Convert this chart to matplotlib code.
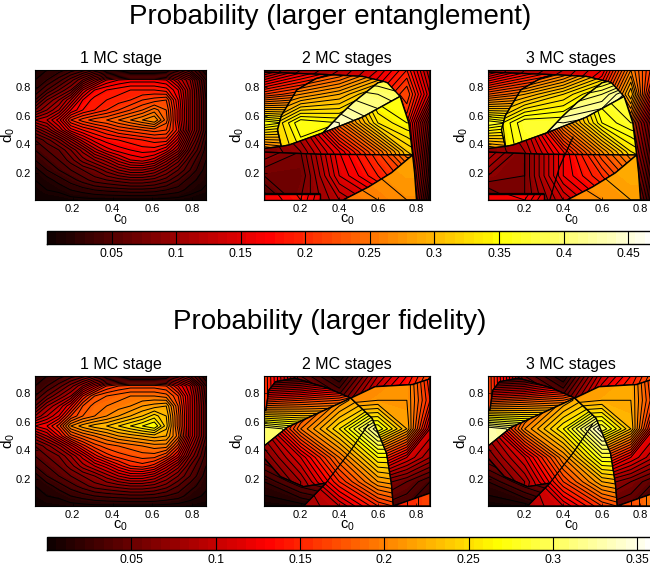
import matplotlib

matplotlib.use("Agg")
import matplotlib.pyplot as plt
import numpy as np
from matplotlib.patches import Polygon

plt.rcParams["font.family"] = ["Liberation Sans", "DejaVu Sans"]
plt.rcParams["mathtext.default"] = "regular"

c0 = [0.01, 0.07, 0.13, 0.19, 0.25, 0.31, 0.37, 0.43, 0.49, 0.55, 0.61, 0.67, 0.73, 0.79, 0.87]
d0 = [0.92, 0.85, 0.78, 0.71, 0.64, 0.57, 0.50, 0.43, 0.36, 0.29, 0.22, 0.15, 0.08, 0.01]

# one stage looks the same in both rows, only the colour scale differs
stage_1 = [
    [.01, .02, .025, .035, .045, .06, .07, .075, .08, .08, .08, .08, .07, .05, .01],
    [.02, .03, .045, .065, .09, .12, .15, .16, .165, .165, .165, .16, .13, .10, .03],
    [.03, .05, .07, .09, .14, .17, .18, .185, .19, .19, .19, .185, .16, .11, .035],
    [.05, .08, .10, .13, .17, .185, .19, .195, .20, .21, .215, .22, .17, .11, .04],
    [.08, .10, .12, .16, .18, .19, .20, .21, .22, .23, .245, .23, .175, .11, .04],
    [.12, .13, .155, .20, .215, .225, .23, .24, .25, .26, .27, .235, .175, .11, .04],
    [.08, .10, .13, .165, .18, .19, .20, .21, .215, .22, .225, .22, .185, .11, .04],
    [.05, .065, .085, .115, .145, .165, .175, .18, .185, .19, .195, .195, .155, .09, .03],
    [.04, .05, .06, .08, .105, .135, .155, .165, .17, .175, .175, .16, .125, .07, .025],
    [.03, .04, .05, .065, .085, .10, .115, .135, .15, .155, .145, .115, .085, .05, .02],
    [.015, .03, .04, .05, .06, .07, .085, .10, .11, .11, .10, .08, .06, .04, .015],
    [.01, .015, .025, .035, .045, .055, .06, .065, .07, .07, .065, .055, .04, .025, .012],
    [.005, .01, .012, .02, .025, .03, .033, .035, .037, .037, .035, .03, .025, .015, .008],
    [.002, .003, .004, .005, .006, .007, .007, .007, .007, .007, .007, .006, .005, .004, .003],
]

# the 2 and 3 stage surfaces jump between regions, each region gets a coarse grid of its own
region_c = [0.01, 0.2, 0.4, 0.6, 0.75, 0.87]
region_d = [0.92, 0.75, 0.55, 0.35, 0.18, 0.01]

# region outlines for the top row
ent_outer_c = [.01, .87, .87, .80, .79, .78, .76, .72, .65, .52, .35, .2, .01]
ent_outer_d = [.92, .92, .01, .01, .2, .325, .55, .72, .83, .875, .887, .895, .905]
ent_left_c = [.01, .2, .35, .28, .18, .10, .08, .10, .01]
ent_left_d = [.905, .895, .887, .86, .78, .60, .50, .385, .37]
ent_inner_c = [.35, .52, .63, .60, .47, .40, .315, .14, .10, .08, .10, .18, .28]
ent_inner_d = [.887, .875, .84, .83, .69, .60, .48, .395, .385, .50, .60, .78, .86]
ent_pale_c = [.63, .65, .715, .52, .315, .40, .47, .60]
ent_pale_d = [.84, .83, .735, .59, .48, .60, .69, .83]
ent_mid_c = [.01, .10, .14, .315, .52, .715, .76, .78, .30, .01]
ent_mid_d = [.37, .385, .395, .48, .59, .735, .55, .325, .33, .345]
ent_lower_c = [.01, .30, .78, .67, .55, .42, .30, .30, .01]
ent_lower_d = [.345, .33, .325, .20, .10, .01, .01, .055, .055]
ent_right_c = [.78, .79, .80, .42, .55, .67]
ent_right_d = [.325, .2, .01, .01, .10, .20]
ent_base_c = [.01, .30, .30, .01]
ent_base_d = [.055, .055, .01, .01]
ent3_thin_c = [.33, .38, .45]
ent3_thin_d = [.01, .24, .45]

# region outlines for the bottom row
fid_outer_c = [.01, .87, .87, .78, .585, .46, .34, .17, .07, .035, .02, .01]
fid_outer_d = [.92, .92, .90, .86, .845, .765, .835, .905, .88, .82, .68, .68]
fid_left_c = [.01, .02, .035, .07, .17, .34, .46, .13, .02, .01]
fid_left_d = [.68, .68, .82, .88, .905, .835, .765, .56, .44, .43]
fid_mid_c = [.01, .02, .13, .46, .57, .645, .67, .68, .215, .33, .215, .095, .02, .01]
fid_mid_d = [.43, .44, .56, .765, .625, .38, .17, .01, .01, .17, .145, .215, .33, .34]
fid_dark_c = [.01, .02, .095, .215, .33, .215, .01]
fid_dark_d = [.34, .33, .215, .145, .17, .01, .01]
fid_right_c = [.46, .585, .78, .87, .87, .68, .67, .645, .57]
fid_right_d = [.765, .845, .86, .90, .10, .01, .17, .38, .625]
fid_base_c = [.68, .87, .87]
fid_base_d = [.01, .10, .01]
fid_thin_c = [.33, .45, .55]
fid_thin_d = [.17, .38, .58]

ent2_outer = [
    [.08, .10, .12, .15, .19, .12],
    [.10, .12, .14, .18, .22, .14],
    [.10, .10, .10, .15, .19, .07],
    [.10, .10, .10, .15, .18, .05],
    [.10, .10, .10, .15, .16, .04],
    [.10, .10, .10, .15, .15, .02],
]
ent2_left = [
    [.11, .15, .18, .20, .20, .20],
    [.21, .23, .24, .24, .24, .24],
    [.36, .34, .30, .30, .30, .30],
    [.24, .26, .30, .30, .30, .30],
    [.20, .25, .30, .30, .30, .30],
    [.20, .25, .30, .30, .30, .30],
]
ent2_inner = [
    [.20, .19, .22, .26, .30, .30],
    [.26, .27, .29, .33, .35, .35],
    [.30, .36, .35, .36, .36, .36],
    [.30, .34, .35, .36, .36, .36],
    [.30, .34, .35, .36, .36, .36],
    [.30, .34, .35, .36, .36, .36],
]
ent2_pale = [
    [.38, .38, .37, .37, .36, .36],
    [.42, .42, .41, .40, .39, .38],
    [.46, .45, .44, .42, .41, .40],
    [.46, .46, .44, .42, .41, .40],
    [.46, .46, .44, .42, .41, .40],
    [.46, .46, .44, .42, .41, .40],
]
ent2_mid = [
    [.10, .20, .30, .38, .38, .38],
    [.10, .18, .28, .36, .36, .36],
    [.09, .13, .24, .33, .35, .35],
    [.08, .10, .16, .24, .31, .33],
    [.08, .09, .14, .20, .28, .30],
    [.08, .09, .14, .20, .28, .30],
]
ent2_lower = [
    [.10, .10, .20, .25, .30, .30],
    [.10, .10, .20, .25, .30, .30],
    [.10, .09, .18, .23, .28, .28],
    [.10, .08, .16, .21, .26, .26],
    [.07, .07, .15, .19, .22, .22],
    [.04, .08, .12, .15, .20, .20],
]
ent2_right = [
    [.28, .28, .28, .28, .28, .28],
    [.28, .28, .28, .28, .28, .28],
    [.28, .28, .28, .28, .28, .28],
    [.28, .28, .28, .28, .28, .28],
    [.26, .26, .26, .27, .28, .28],
    [.25, .25, .25, .26, .27, .27],
]
ent2_base = [
    [.16, .18, .12, .12, .12, .12],
    [.16, .18, .12, .12, .12, .12],
    [.16, .18, .12, .12, .12, .12],
    [.16, .18, .12, .12, .12, .12],
    [.17, .19, .13, .12, .12, .12],
    [.16, .18, .12, .12, .12, .12],
]

ent3_outer = [
    [.09, .11, .13, .16, .26, .20],
    [.10, .13, .15, .20, .30, .16],
    [.10, .10, .10, .16, .24, .09],
    [.10, .10, .10, .15, .22, .07],
    [.10, .10, .10, .15, .20, .05],
    [.10, .10, .10, .15, .18, .03],
]
ent3_left = [
    [.12, .16, .19, .21, .21, .21],
    [.23, .25, .26, .26, .26, .26],
    [.37, .35, .32, .32, .32, .32],
    [.26, .28, .32, .32, .32, .32],
    [.22, .27, .32, .32, .32, .32],
    [.22, .27, .32, .32, .32, .32],
]
ent3_inner = [
    [.21, .20, .24, .29, .33, .33],
    [.28, .29, .32, .36, .37, .37],
    [.32, .37, .37, .38, .38, .38],
    [.32, .36, .37, .38, .38, .38],
    [.32, .36, .37, .38, .38, .38],
    [.32, .36, .37, .38, .38, .38],
]
ent3_pale = [
    [.34, .32, .32, .34, .36, .36],
    [.38, .37, .38, .40, .44, .44],
    [.44, .44, .43, .44, .44, .44],
    [.45, .45, .44, .44, .44, .44],
    [.45, .45, .44, .44, .44, .44],
    [.45, .45, .44, .44, .44, .44],
]
ent3_mid = [
    [.10, .20, .31, .39, .39, .39],
    [.10, .18, .29, .37, .38, .38],
    [.09, .13, .26, .35, .37, .37],
    [.09, .11, .18, .27, .33, .35],
    [.08, .09, .15, .22, .29, .31],
    [.08, .09, .15, .22, .29, .31],
]
ent3_lower = [
    [.12, .10, .20, .26, .31, .31],
    [.12, .10, .20, .26, .31, .31],
    [.12, .09, .18, .25, .29, .29],
    [.12, .08, .16, .23, .27, .27],
    [.09, .08, .16, .20, .24, .24],
    [.05, .08, .13, .17, .21, .21],
]
ent3_right = [
    [.29, .29, .29, .29, .29, .29],
    [.29, .29, .29, .29, .29, .29],
    [.29, .29, .29, .29, .29, .29],
    [.29, .29, .29, .29, .29, .29],
    [.27, .27, .27, .28, .29, .29],
    [.26, .26, .26, .27, .28, .28],
]
ent3_base = [
    [.16, .17, .11, .11, .11, .11],
    [.16, .17, .11, .11, .11, .11],
    [.16, .17, .11, .11, .11, .11],
    [.16, .17, .11, .11, .11, .11],
    [.18, .20, .13, .11, .11, .11],
    [.16, .17, .11, .11, .11, .11],
]

fid2_outer = [
    [.16, .05, .01, .09, .13, .17],
    [.16, .06, .05, .12, .15, .19],
    [.16, .08, .08, .14, .16, .20],
    [.16, .08, .08, .14, .16, .20],
    [.16, .08, .08, .14, .16, .20],
    [.16, .08, .08, .14, .16, .20],
]
fid2_left = [
    [.02, .03, .06, .12, .15, .15],
    [.15, .16, .17, .20, .20, .20],
    [.31, .29, .28, .28, .28, .28],
    [.31, .30, .30, .30, .30, .30],
    [.30, .30, .30, .30, .30, .30],
    [.30, .30, .30, .30, .30, .30],
]
fid2_mid = [
    [.10, .15, .22, .24, .24, .24],
    [.12, .14, .20, .24, .24, .24],
    [.09, .19, .25, .33, .33, .33],
    [.06, .11, .19, .26, .26, .26],
    [.04, .08, .15, .21, .22, .22],
    [.02, .08, .10, .15, .17, .17],
]
fid2_dark = [
    [.07, .08, .10, .10, .10, .10],
    [.07, .08, .10, .10, .10, .10],
    [.07, .08, .10, .10, .10, .10],
    [.06, .08, .10, .10, .10, .10],
    [.02, .05, .07, .07, .07, .07],
    [.002, .005, .02, .02, .02, .02],
]
fid2_right = [
    [.20, .20, .20, .20, .21, .14],
    [.20, .20, .20, .21, .21, .15],
    [.28, .28, .28, .28, .22, .11],
    [.18, .18, .18, .16, .11, .08],
    [.06, .06, .06, .07, .05, .03],
    [.04, .04, .04, .04, .03, .02],
]
fid2_base = [
    [.12, .12, .12, .13, .15, .17],
    [.12, .12, .12, .13, .15, .17],
    [.12, .12, .12, .13, .15, .17],
    [.12, .12, .12, .13, .15, .17],
    [.12, .12, .12, .13, .15, .17],
    [.12, .12, .12, .13, .15, .17],
]

fid3_outer = [
    [.17, .05, .01, .10, .14, .18],
    [.17, .06, .05, .13, .16, .20],
    [.17, .08, .08, .15, .17, .21],
    [.17, .08, .08, .15, .17, .21],
    [.17, .08, .08, .15, .17, .21],
    [.17, .08, .08, .15, .17, .21],
]
fid3_left = [
    [.02, .03, .07, .13, .16, .16],
    [.16, .17, .18, .21, .21, .21],
    [.33, .31, .30, .30, .30, .30],
    [.33, .32, .32, .32, .32, .32],
    [.33, .32, .32, .32, .32, .32],
    [.33, .32, .32, .32, .32, .32],
]
fid3_mid = [
    [.10, .16, .23, .25, .25, .25],
    [.12, .15, .21, .25, .25, .25],
    [.09, .20, .26, .35, .35, .35],
    [.06, .11, .20, .28, .28, .28],
    [.04, .08, .16, .22, .23, .23],
    [.02, .09, .11, .16, .18, .18],
]
fid3_dark = [
    [.07, .08, .10, .10, .10, .10],
    [.07, .08, .10, .10, .10, .10],
    [.07, .08, .10, .10, .10, .10],
    [.06, .08, .10, .10, .10, .10],
    [.02, .05, .07, .07, .07, .07],
    [.002, .005, .03, .03, .03, .03],
]
fid3_right = [
    [.21, .21, .21, .21, .22, .15],
    [.21, .21, .21, .22, .22, .16],
    [.29, .29, .29, .29, .23, .12],
    [.19, .19, .19, .17, .12, .09],
    [.07, .07, .07, .08, .06, .04],
    [.05, .05, .05, .05, .04, .03],
]
fid3_base = [
    [.14, .14, .14, .15, .17, .20],
    [.14, .14, .14, .15, .17, .20],
    [.14, .14, .14, .15, .17, .20],
    [.14, .14, .14, .15, .17, .20],
    [.14, .14, .14, .15, .17, .20],
    [.14, .14, .14, .15, .17, .20],
]

ent_outlines = [
    (ent_outer_c, ent_outer_d), (ent_left_c, ent_left_d), (ent_inner_c, ent_inner_d),
    (ent_pale_c, ent_pale_d), (ent_mid_c, ent_mid_d), (ent_lower_c, ent_lower_d),
    (ent_right_c, ent_right_d), (ent_base_c, ent_base_d),
]
fid_outlines = [
    (fid_outer_c, fid_outer_d), (fid_left_c, fid_left_d), (fid_mid_c, fid_mid_d),
    (fid_dark_c, fid_dark_d), (fid_right_c, fid_right_d), (fid_base_c, fid_base_d),
]
ent2_regions = [ent2_outer, ent2_left, ent2_inner, ent2_pale, ent2_mid, ent2_lower, ent2_right, ent2_base]
ent3_regions = [ent3_outer, ent3_left, ent3_inner, ent3_pale, ent3_mid, ent3_lower, ent3_right, ent3_base]
fid2_regions = [fid2_outer, fid2_left, fid2_mid, fid2_dark, fid2_right, fid2_base]
fid3_regions = [fid3_outer, fid3_left, fid3_mid, fid3_dark, fid3_right, fid3_base]

panel_titles = ["1 MC stage", "2 MC stages", "3 MC stages"]
panel_ticks = [0.2, 0.4, 0.6, 0.8]
ent_bar_ticks = [0.05, 0.1, 0.15, 0.2, 0.25, 0.3, 0.35, 0.4, 0.45]
fid_bar_ticks = [0.05, 0.1, 0.15, 0.2, 0.25, 0.3, 0.35]
ENT_MAX = 0.47
FID_MAX = 0.36
LINE_STEP = 0.01

WIDTH = 650
HEIGHT = 572


def px_axes(fig, left, top, right, bottom):
    return fig.add_axes(
        [left / WIDTH, 1 - bottom / HEIGHT, (right - left) / WIDTH, (bottom - top) / HEIGHT]
    )


def draw_surface(ax, xs, ys, values, vmax, outline=None):
    fill_levels = np.linspace(0, vmax, 65)
    line_levels = np.arange(LINE_STEP, 0.47, LINE_STEP)
    surf = ax.contourf(xs, ys, values, levels=fill_levels, cmap="hot", vmin=0, vmax=vmax)
    lines = ax.contour(xs, ys, values, levels=line_levels, colors="black", linewidths=0.7)
    if outline is not None:
        clip = Polygon(np.column_stack(outline), transform=ax.transData)
        surf.set_clip_path(clip)
        lines.set_clip_path(clip)
        ax.fill(*outline, color="none", edgecolor="black", linewidth=1.0)
    return surf


def style_panel(ax, title):
    ax.set_xlim(0.01, 0.87)
    ax.set_ylim(0.01, 0.92)
    ax.set_xticks(panel_ticks)
    ax.set_yticks(panel_ticks)
    ax.set_xticklabels(["0.2", "0.4", "0.6", "0.8"])
    ax.set_yticklabels(["0.2", "0.4", "0.6", "0.8"])
    ax.tick_params(direction="in", length=2, width=0.5, labelsize=8, pad=3)
    ax.set_title(title, fontsize=11.5, pad=5)
    ax.set_xlabel("$c_0$", fontsize=10.5, labelpad=-1)
    ax.set_ylabel("$d_0$", fontsize=11, labelpad=-1)


def draw_bar(fig, box, surf, ticks):
    cax = px_axes(fig, *box)
    bar = fig.colorbar(surf, cax=cax, orientation="horizontal", ticks=ticks)
    bar.ax.set_xticklabels([f"{t:g}" for t in ticks])
    bar.ax.tick_params(
        direction="in", length=(box[3] - box[1]) * 0.72, width=0.8, color="black",
        labelsize=8.8, pad=3,
    )
    bar.outline.set_linewidth(1)


fig = plt.figure(figsize=(WIDTH / 100, HEIGHT / 100), dpi=100)
fig.patch.set_facecolor("white")

columns = [(35, 206), (264, 430), (488, 654)]

ax = px_axes(fig, 35, 70, 206, 200)
surf = draw_surface(ax, c0, d0, stage_1, ENT_MAX)
style_panel(ax, panel_titles[0])
for i, regions in enumerate([ent2_regions, ent3_regions]):
    ax = px_axes(fig, columns[i + 1][0], 70, columns[i + 1][1], 200)
    ax.set_facecolor("black")
    for values, outline in zip(regions, ent_outlines):
        draw_surface(ax, region_c, region_d, values, ENT_MAX, outline)
    if i == 1:
        ax.plot(ent3_thin_c, ent3_thin_d, color="black", linewidth=0.9)
    style_panel(ax, panel_titles[i + 1])
draw_bar(fig, (47, 231, 654, 244), surf, ent_bar_ticks)

ax = px_axes(fig, 35, 376, 206, 506)
surf = draw_surface(ax, c0, d0, stage_1, FID_MAX)
style_panel(ax, panel_titles[0])
for i, regions in enumerate([fid2_regions, fid3_regions]):
    ax = px_axes(fig, columns[i + 1][0], 376, columns[i + 1][1], 506)
    ax.set_facecolor("black")
    for values, outline in zip(regions, fid_outlines):
        draw_surface(ax, region_c, region_d, values, FID_MAX, outline)
    ax.plot(fid_thin_c, fid_thin_d, color="black", linewidth=0.9)
    style_panel(ax, panel_titles[i + 1])
draw_bar(fig, (47, 537, 654, 550), surf, fid_bar_ticks)

fig.text(330 / WIDTH, 1 - 17 / HEIGHT, "Probability (larger entanglement)", fontsize=20,
         ha="center", va="center")
fig.text(330 / WIDTH, 1 - 322 / HEIGHT, "Probability (larger fidelity)", fontsize=20,
         ha="center", va="center")

fig.savefig("out.png", dpi=100)
